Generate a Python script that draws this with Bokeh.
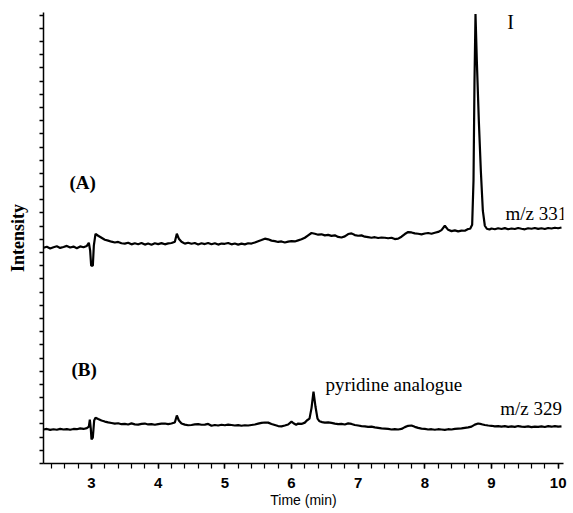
import math
from bokeh.plotting import figure
from bokeh.models import Label, SingleIntervalTicker, CustomJSTickFormatter, ColumnDataSource
from bokeh.embed import file_html
from bokeh.resources import INLINE

# ---- data ----
time_a = [2.28, 2.33, 2.38, 2.43, 2.48, 2.53, 2.58, 2.63, 2.68, 2.73, 2.78, 2.83, 2.88, 2.93,
          2.96, 2.98, 2.995, 3.02, 3.035, 3.06, 3.10, 3.15, 3.20, 3.25, 3.30, 3.35, 3.40, 3.45,
          3.50, 3.55, 3.60, 3.65, 3.70, 3.75, 3.80, 3.85, 3.90, 3.95, 4.00, 4.05, 4.10, 4.15,
          4.20, 4.25, 4.28, 4.31, 4.35, 4.40, 4.45, 4.50, 4.55, 4.60, 4.65, 4.70, 4.75, 4.80,
          4.85, 4.90, 4.95, 5.00, 5.05, 5.10, 5.15, 5.20, 5.25, 5.30, 5.35, 5.40, 5.45, 5.50,
          5.55, 5.60, 5.65, 5.70, 5.75, 5.80, 5.85, 5.90, 5.95, 6.00, 6.05, 6.10, 6.15, 6.20,
          6.25, 6.30, 6.35, 6.40, 6.45, 6.50, 6.55, 6.60, 6.65, 6.70, 6.75, 6.80, 6.85, 6.90,
          6.95, 7.00, 7.05, 7.10, 7.15, 7.20, 7.25, 7.30, 7.35, 7.40, 7.45, 7.50, 7.55, 7.60,
          7.65, 7.70, 7.75, 7.80, 7.85, 7.90, 7.95, 8.00, 8.05, 8.10, 8.15, 8.20, 8.25, 8.30,
          8.35, 8.40, 8.45, 8.50, 8.55, 8.60, 8.65, 8.68, 8.71, 8.73, 8.745, 8.76, 8.78, 8.81,
          8.84, 8.87, 8.90, 8.93, 8.97, 9.00, 9.05, 9.10, 9.15, 9.20, 9.25, 9.30, 9.35, 9.40,
          9.45, 9.50, 9.55, 9.60, 9.65, 9.70, 9.75, 9.80, 9.85, 9.90, 9.95, 10.00, 10.05]
intensity_a = [16.36, 16.44, 16.31, 16.40, 16.47, 16.35, 16.42, 16.50, 16.38, 16.45, 16.33, 16.46, 16.40, 16.50,
               16.74, 16.14, 15.00, 15.00, 16.52, 17.42, 17.27, 17.12, 16.97, 16.90, 16.82, 16.76, 16.80, 16.70,
               16.67, 16.74, 16.62, 16.70, 16.63, 16.72, 16.60, 16.68, 16.59, 16.70, 16.64, 16.71, 16.62, 16.69,
               16.72, 16.82, 17.42, 17.05, 16.82, 16.67, 16.74, 16.66, 16.72, 16.61, 16.70, 16.64, 16.72, 16.63,
               16.70, 16.60, 16.68, 16.66, 16.72, 16.62, 16.68, 16.60, 16.67, 16.62, 16.70, 16.68, 16.76, 16.86,
               16.95, 17.05, 17.00, 16.90, 16.86, 16.80, 16.84, 16.76, 16.82, 16.86, 16.84, 16.92, 17.00, 17.12,
               17.30, 17.48, 17.42, 17.35, 17.38, 17.30, 17.34, 17.26, 17.30, 17.18, 17.14, 17.22, 17.40, 17.45,
               17.32, 17.27, 17.30, 17.20, 17.16, 17.12, 17.16, 17.10, 17.14, 17.12, 17.08, 17.12, 17.02, 17.05,
               17.20, 17.40, 17.55, 17.52, 17.45, 17.42, 17.38, 17.44, 17.48, 17.42, 17.50, 17.56, 17.70, 18.03,
               17.72, 17.62, 17.68, 17.60, 17.66, 17.65, 17.78, 17.80, 18.11, 21.44, 29.02, 34.09, 30.53, 25.98,
               22.20, 19.17, 18.03, 17.80, 17.74, 17.82, 17.76, 17.84, 17.78, 17.85, 17.76, 17.82, 17.78, 17.86,
               17.80, 17.76, 17.84, 17.80, 17.86, 17.79, 17.84, 17.78, 17.86, 17.82, 17.88, 17.84, 17.90]

time_b = [2.28, 2.33, 2.38, 2.43, 2.48, 2.53, 2.58, 2.63, 2.68, 2.73, 2.78, 2.83, 2.88, 2.93,
          2.96, 2.975, 2.99, 3.00, 3.02, 3.04, 3.06, 3.10, 3.15, 3.20, 3.25, 3.30, 3.35, 3.40,
          3.45, 3.50, 3.55, 3.60, 3.65, 3.70, 3.75, 3.80, 3.85, 3.90, 3.95, 4.00, 4.05, 4.10,
          4.15, 4.20, 4.25, 4.28, 4.31, 4.35, 4.40, 4.45, 4.50, 4.55, 4.60, 4.65, 4.70, 4.75,
          4.80, 4.85, 4.90, 4.95, 5.00, 5.05, 5.10, 5.15, 5.20, 5.25, 5.30, 5.35, 5.40, 5.45,
          5.50, 5.55, 5.60, 5.65, 5.70, 5.75, 5.80, 5.85, 5.90, 5.95, 6.00, 6.03, 6.07, 6.10,
          6.15, 6.20, 6.23, 6.27, 6.30, 6.33, 6.36, 6.39, 6.42, 6.46, 6.50, 6.55, 6.60, 6.65,
          6.70, 6.75, 6.80, 6.85, 6.90, 6.95, 7.00, 7.05, 7.10, 7.15, 7.20, 7.25, 7.30, 7.35,
          7.40, 7.45, 7.50, 7.55, 7.60, 7.65, 7.70, 7.75, 7.80, 7.85, 7.90, 7.95, 8.00, 8.05,
          8.10, 8.15, 8.20, 8.25, 8.30, 8.35, 8.40, 8.45, 8.50, 8.55, 8.60, 8.65, 8.70, 8.75,
          8.80, 8.85, 8.90, 8.95, 9.00, 9.05, 9.10, 9.15, 9.20, 9.25, 9.30, 9.35, 9.40, 9.45,
          9.50, 9.55, 9.60, 9.65, 9.70, 9.75, 9.80, 9.85, 9.90, 9.95, 10.00, 10.05]
intensity_b = [2.58, 2.62, 2.55, 2.60, 2.56, 2.63, 2.58, 2.61, 2.56, 2.62, 2.60, 2.66, 2.62, 2.68,
               2.80, 3.33, 2.60, 1.82, 1.97, 3.26, 3.48, 3.37, 3.26, 3.18, 3.12, 3.07, 3.02, 3.05,
               2.98, 3.00, 2.96, 3.04, 2.97, 2.95, 3.01, 3.03, 2.96, 2.99, 2.94, 2.99, 3.02, 3.03,
               2.98, 3.03, 3.11, 3.64, 3.26, 3.03, 2.95, 2.90, 2.92, 2.97, 2.99, 2.94, 2.95, 3.00,
               2.86, 2.92, 2.88, 2.94, 2.90, 2.95, 2.92, 2.88, 2.91, 2.86, 2.90, 2.88, 2.92, 2.96,
               3.02, 3.08, 3.11, 3.10, 3.00, 2.92, 2.84, 2.82, 2.88, 2.96, 3.18, 3.05, 2.94, 3.03,
               3.00, 3.10, 3.26, 3.40, 4.20, 5.45, 4.30, 3.40, 3.20, 3.14, 3.10, 3.12, 3.08, 3.02,
               2.98, 3.00, 2.96, 3.04, 3.00, 2.92, 2.88, 2.84, 2.82, 2.78, 2.80, 2.74, 2.70, 2.66,
               2.64, 2.62, 2.58, 2.60, 2.58, 2.62, 2.76, 2.86, 2.88, 2.78, 2.70, 2.65, 2.62, 2.58,
               2.60, 2.56, 2.60, 2.58, 2.55, 2.60, 2.58, 2.62, 2.64, 2.66, 2.70, 2.74, 2.80, 2.95,
               3.03, 2.98, 2.92, 2.88, 2.86, 2.82, 2.84, 2.80, 2.83, 2.78, 2.82, 2.78, 2.84, 2.80,
               2.78, 2.82, 2.76, 2.80, 2.78, 2.82, 2.77, 2.83, 2.79, 2.84, 2.80, 2.82]

x_start, x_end = 2.28, 10.08
y_start, y_end = 0.0, 34.2

SERIF = "Liberation Serif"
SANS = "Liberation Sans"

p = figure(width=573, height=513, x_range=(x_start, x_end), y_range=(y_start, y_end),
           output_backend="svg", toolbar_location=None,
           min_border_left=43, min_border_right=10, min_border_top=12, min_border_bottom=50)
p.outline_line_color = None
p.grid.visible = False
p.background_fill_color = "white"
p.border_fill_color = "white"

src_a = ColumnDataSource(dict(t=time_a, v=intensity_a))
src_b = ColumnDataSource(dict(t=time_b, v=intensity_b))
p.line("t", "v", source=src_a, line_color="black", line_width=2.2)
p.line("t", "v", source=src_b, line_color="black", line_width=2.2)

# x axis
xa = p.xaxis[0]
xa.ticker = SingleIntervalTicker(interval=1, num_minor_ticks=5)
xa.axis_line_width = 1.5
xa.major_tick_line_width = 1.5
xa.minor_tick_line_width = 1.2
xa.major_tick_in = 0
xa.major_tick_out = 5
xa.minor_tick_in = 0
xa.minor_tick_out = 5
xa.major_label_text_font = SANS
xa.major_label_text_font_style = "bold"
xa.major_label_text_font_size = "15px"
xa.major_label_text_color = "black"
xa.major_label_standoff = 9
xa.axis_label = "Time (min)"
xa.axis_label_text_font = SANS
xa.axis_label_text_font_style = "normal"
xa.axis_label_text_font_size = "14px"
xa.axis_label_text_color = "black"
xa.axis_label_standoff = 1

# y axis
ya = p.yaxis[0]
ya.ticker = SingleIntervalTicker(interval=1, num_minor_ticks=0)
ya.formatter = CustomJSTickFormatter(code="return ''")
ya.axis_line_width = 1.5
ya.major_tick_line_width = 1.3
ya.major_tick_in = 0
ya.major_tick_out = 4
ya.minor_tick_out = 0
ya.minor_tick_in = 0
ya.major_label_standoff = 0
ya.axis_label = "Intensity"
ya.axis_label_text_font = SERIF
ya.axis_label_text_font_style = "bold"
ya.axis_label_text_font_size = "18px"
ya.axis_label_text_color = "black"
ya.axis_label_standoff = 12

def add_label(x, y, text, font, size, style="normal", align="left", angle=0.0):
    p.add_layout(Label(x=x, y=y, text=text, text_font=font, text_font_size=size,
                       text_font_style=style, text_align=align, text_baseline="middle",
                       text_color="black", angle=angle))

add_label(2.67, 21.29, "(A)", SERIF, "19px", "bold")
add_label(2.70, 7.12, "(B)", SERIF, "19px", "bold")
add_label(9.21, 18.94, "m/z 331", SERIF, "19px")
add_label(9.13, 4.17, "m/z 329", SERIF, "19px")
add_label(6.51, 5.98, "pyridine analogue", SERIF, "19px")
add_label(9.285, 33.51, "I", SERIF, "20px", align="center")

open("out.html", "w").write(file_html(p, INLINE))
